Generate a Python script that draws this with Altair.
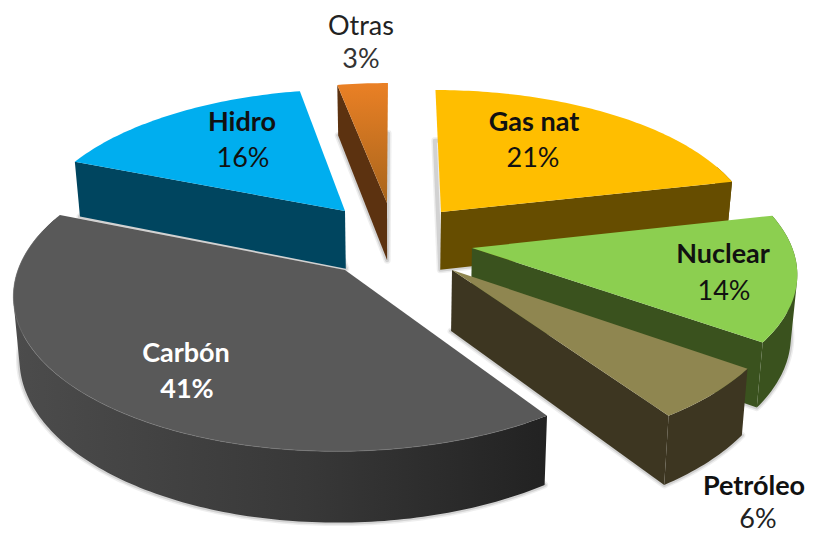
import math
import altair as alt

# --- chart values ---
names = ["Gas nat", "Nuclear", "Petróleo", "Carbón", "Hidro", "Otras"]
shares = [21.4, 13.5, 5.6, 40.6, 15.9, 3.0]
pct_labels = ["21%", "14%", "6%", "41%", "16%", "3%"]

# --- styles ---
top_colors = ["#FFBE00", "#8CCF50", "#8F8650", "#595959", "#00AEEF", None]
wall_colors = ["#664D00", "#3A521E", "#3D3621", None, "#00455F", "#5C3210"]
name_colors = ["#111111", "#111111", "#111111", "#FFFFFF", "#111111", "#222222"]
pct_colors = ["#111111", "#111111", "#222222", "#FFFFFF", "#111111", "#333333"]
name_weights = ["bold", "bold", "bold", "bold", "bold", "normal"]
pct_weights = ["normal", "normal", "normal", "bold", "normal", "normal"]
FONT = "Lato"
FS = 27

carbon_wall = alt.Gradient(gradient="linear", x1=0, x2=1, y1=0, y2=0, stops=[
    alt.GradientStop(color="#4C4C4C", offset=0),
    alt.GradientStop(color="#383838", offset=0.55),
    alt.GradientStop(color="#222222", offset=1)])
otras_top = alt.Gradient(gradient="linear", x1=0, x2=0, y1=0, y2=1, stops=[
    alt.GradientStop(color="#EA8025", offset=0),
    alt.GradientStop(color="#A8651C", offset=1)])

# --- layout: exploded apex of each slice, label anchors, view model ---
apex = [(441, 212), (472, 248), (452, 270), (345, 270), (345, 211), (387, 203)]
name_pos = [(534, 123), (723, 255), (754, 487), (186, 354), (242, 123), (361, 27)]
pct_pos = [(533, 159), (724, 292), (758, 520), (187, 390), (243, 159), (361, 60)]
XC, YH, Y0, D0, R, H, LEAN = 395.0, -800.0, 270.0, 2257.0, 327.0, 61.0, 0.016


def to_world(p):
    s = (p[1] - YH) / (Y0 - YH)
    return (p[0] - XC) / s, D0 * (1 - 1 / s)


def screen(X, V, down=False):
    s = D0 / (D0 - V)
    x, y = XC + X * s, YH + (Y0 - YH) * s
    if down:
        x -= (x - XC) * LEAN
        y += H * s
    return [round(x, 2), round(y, 2)]


def rim(a, deg):
    t = math.radians(deg)
    return a[0] + R * math.sin(t), a[1] - R * math.cos(t)


def arc_points(a, d0, d1, down=False):
    n = max(2, int(abs(d1 - d0)) + 1)
    return [screen(*rim(a, d0 + (d1 - d0) * i / (n - 1)), down) for i in range(n)]


def shape(coords, kind="Polygon"):
    return alt.InlineData(values=[{"type": "Feature", "properties": {},
                                   "geometry": {"type": kind, "coordinates": coords}}],
                          format=alt.DataFormat(type="json"))


def face(ring, fill):
    return alt.Chart(shape([ring + [ring[0]]])).mark_geoshape(fill=fill, stroke=None, strokeWidth=0)


def swept_wall(a, d0, d1, fill):
    """Outer wall as one path of same-wound quads, so that its silhouette is filled."""
    upper, lower = arc_points(a, d0, d1), arc_points(a, d0, d1, True)
    polys = []
    for i in range(len(upper) - 1):
        q = [upper[i], upper[i + 1], lower[i + 1], lower[i]]
        area = sum(q[k][0] * q[(k + 1) % 4][1] - q[(k + 1) % 4][0] * q[k][1] for k in range(4))
        if area < 0:
            q = q[::-1]
        polys.append([q + [q[0]]])
    return alt.Chart(shape(polys, "MultiPolygon")).mark_geoshape(fill=fill, stroke=None, strokeWidth=0)


def shadow(ring, width, opacity):
    return alt.Chart(shape([ring + [ring[0]]])).mark_geoshape(
        filled=False, stroke="#555555", strokeWidth=width, strokeOpacity=opacity, strokeJoin="round")


total = sum(shares)
layers = []
start = 0.0
spans = []
for v in shares:
    spans.append((start, start + v / total * 360))
    start += v / total * 360

for i in [5, 4, 0, 1, 2, 3]:
    d0, d1 = spans[i]
    a = to_world(apex[i])
    wall = wall_colors[i] if wall_colors[i] else carbon_wall
    top = top_colors[i] if top_colors[i] else otras_top
    # soft shadow round the underside
    under = [screen(*a, True)] + arc_points(a, d0, d1, True)
    layers.append(shadow(under, 7, 0.10))
    layers.append(shadow(under, 4, 0.18))
    # outer wall, the part facing the viewer
    w0, w1 = max(d0, 70), min(d1, 290)
    if w1 > w0:
        layers.append(swept_wall(a, w0, w1, wall))
    # cut faces facing the viewer
    if math.sin(math.radians(d1)) > 1e-6:
        layers.append(face([screen(*a), screen(*rim(a, d1)), screen(*rim(a, d1), True), screen(*a, True)], wall))
    if math.sin(math.radians(d0)) < -1e-6:
        layers.append(face([screen(*a), screen(*rim(a, d0)), screen(*rim(a, d0), True), screen(*a, True)], wall))
    # top face
    layers.append(face([screen(*a)] + arc_points(a, d0, d1), top))
    if i == 3:
        layers.append(alt.Chart(shape(arc_points(a, 150, 285), "LineString")).mark_geoshape(
            filled=False, stroke="#7A7A7A", strokeWidth=1, strokeOpacity=0.6))

for i in range(len(names)):
    layers.append(alt.Chart(alt.Data(values=[{"t": names[i], "lon": name_pos[i][0], "lat": name_pos[i][1]}]))
                  .mark_text(font=FONT, fontSize=FS, fontWeight=name_weights[i], color=name_colors[i], align="center", baseline="middle")
                  .encode(longitude="lon:Q", latitude="lat:Q", text="t:N"))
    layers.append(alt.Chart(alt.Data(values=[{"t": pct_labels[i], "lon": pct_pos[i][0], "lat": pct_pos[i][1]}]))
                  .mark_text(font=FONT, fontSize=FS, fontWeight=pct_weights[i], color=pct_colors[i], align="center", baseline="middle")
                  .encode(longitude="lon:Q", latitude="lat:Q", text="t:N"))

chart = (alt.layer(*layers)
         .project(type="identity", scale=1, translate=[-8, -8])
         .properties(width=798, height=525, padding=0, background="white")
         .configure_view(stroke=None))
chart.save("out.html", embed_options={"renderer": "svg", "actions": False})
